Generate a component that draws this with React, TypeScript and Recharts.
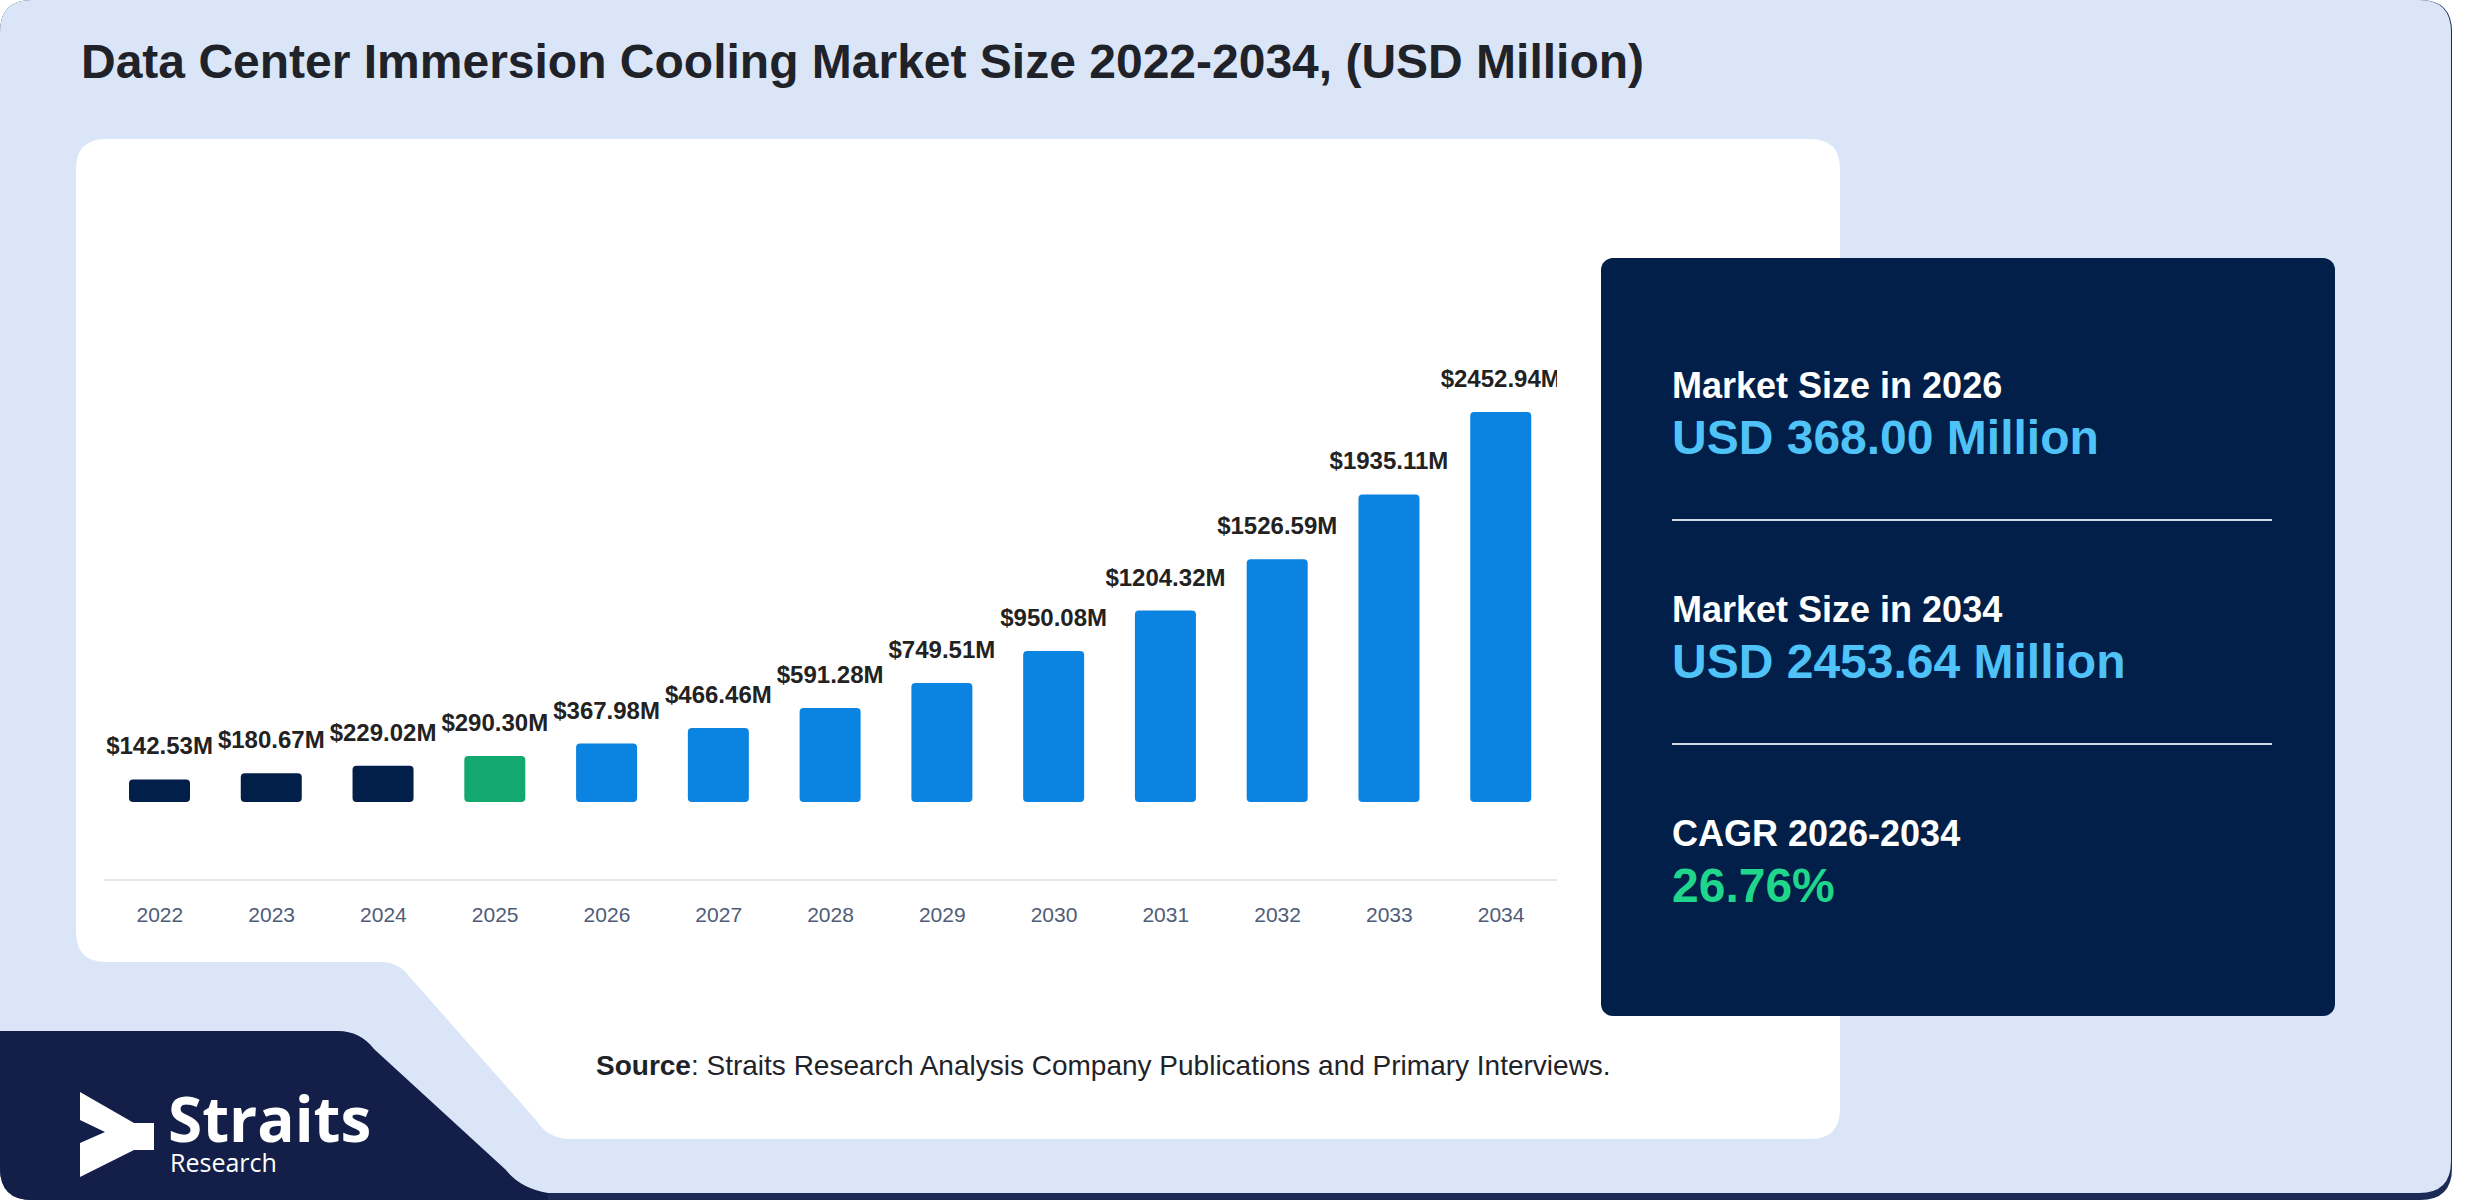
import React from 'react';
import { BarChart, Bar, XAxis, YAxis, Cell, LabelList } from 'recharts';

const YEARS = ['2022', '2023', '2024', '2025', '2026', '2027', '2028', '2029', '2030', '2031', '2032', '2033', '2034'];
const MARKET_SIZE = [142.53, 180.67, 229.02, 290.3, 367.98, 466.46, 591.28, 749.51, 950.08, 1204.32, 1526.59, 1935.11, 2452.94];
const HISTORIC_YEARS = ['2022', '2023', '2024'];
const BASE_YEAR = '2025';

const TITLE = 'Data Center Immersion Cooling Market Size 2022-2034, (USD Million)';
const STAT_LABELS = ['Market Size in 2026', 'Market Size in 2034', 'CAGR 2026-2034'];
const STAT_VALUES = ['USD 368.00 Million', 'USD 2453.64 Million', '26.76%'];
const STAT_COLORS = ['#4fc3f7', '#4fc3f7', '#1fd68b'];

const NAVY = '#011f48';
const GREEN = '#13a86e';
const BLUE = '#0b84e1';
const LOGO_NAVY = '#131f48';
const BG_BLUE = '#dae6f8';
const FONT = '"Liberation Sans", Arial, Helvetica, sans-serif';

const data = YEARS.map((year, i) => ({ year, value: MARKET_SIZE[i] }));

const barColor = (year: string) =>
  HISTORIC_YEARS.includes(year) ? NAVY : year === BASE_YEAR ? GREEN : BLUE;

const fmtMoney = (v: any) => `$${Number(v).toFixed(2)}M`;

// fondo, tarjeta blanca, panel lateral y logo
function Backdrop() {
  const statY = [398, 622, 846];
  return (
    <svg width={2480} height={1200} style={{ position: 'absolute', left: 0, top: 0 }}>
      <path d="M32 0 H2420 Q2452 0 2452 32 V1168 Q2452 1200 2420 1200 H32 Q0 1200 0 1168 V32 Q0 0 32 0 Z" fill="#1c2b55" />
      <path d="M32 0 H2419 Q2451 0 2451 32 V1161 Q2451 1193 2419 1193 H32 Q0 1193 0 1161 V32 Q0 0 32 0 Z" fill={BG_BLUE} />
      <path
        d="M106 139 H1810 Q1840 139 1840 169 V1109 Q1840 1139 1810 1139 H570 Q548 1139 536 1120 L408 975 Q398 962 380 962 H106 Q76 962 76 932 V169 Q76 139 106 139 Z"
        fill="#ffffff"
      />
      <path
        d="M0 1031 H338 Q360 1031 374 1049 L506 1170 Q520 1188 548 1193 V1200 H32 Q0 1200 0 1168 Z"
        fill={LOGO_NAVY}
      />
      <text x={81} y={78} fontFamily={FONT} fontWeight={700} fontSize={48} fill="#1f2329">
        {TITLE}
      </text>

      <rect x={1601} y={258} width={734} height={758} rx={12} fill={NAVY} />
      {STAT_LABELS.map((label, i) => (
        <g key={label}>
          <text x={1672} y={statY[i]} fontFamily={FONT} fontWeight={700} fontSize={36} fill="#ffffff">
            {label}
          </text>
          <text x={1672} y={statY[i] + 56} fontFamily={FONT} fontWeight={700} fontSize={48} fill={STAT_COLORS[i]}>
            {STAT_VALUES[i]}
          </text>
          {i < STAT_LABELS.length - 1 && (
            <line x1={1672} x2={2272} y1={statY[i] + 122} y2={statY[i] + 122} stroke="#d2d9e4" strokeWidth={2} />
          )}
        </g>
      ))}

      <text x={596} y={1075} fontFamily={FONT} fontSize={28} fill="#1f2329">
        <tspan fontWeight={700}>Source</tspan>
        <tspan>: Straits Research Analysis Company Publications and Primary Interviews.</tspan>
      </text>

      <polygon
        points="80,1092 134,1123 154,1123 154,1150 134,1150 80,1177 80,1143 105,1132 80,1120"
        fill="#ffffff"
      />
      <text x={168} y={1142} fontFamily='"Open Sans", sans-serif' fontWeight={700} fontSize={62} fill="#ffffff">
        Straits
      </text>
      <text x={170} y={1172} fontFamily='"Open Sans", sans-serif' fontSize={25} fill="#ffffff">
        Research
      </text>
    </svg>
  );
}

export default function App() {
  return (
    <div style={{ position: 'absolute', left: 0, top: 0, width: 2480, height: 1200, fontFamily: FONT }}>
      <Backdrop />
      <div style={{ position: 'absolute', left: 104, top: 300 }}>
        <BarChart width={1453} height={680} data={data} margin={{ top: 20, right: 0, bottom: 0, left: 0 }}>
          <XAxis
            dataKey="year"
            height={100}
            tickLine={false}
            tickSize={6}
            tickMargin={21}
            axisLine={{ stroke: '#e3e6ea', strokeWidth: 2 }}
            tick={{ fontSize: 21, fill: '#4e5c78', fontFamily: FONT }}
            interval={0}
          />
          <YAxis hide domain={[-490, 3032]} />
          <Bar dataKey="value" barSize={61} radius={4} isAnimationActive={false}>
            {data.map((d) => (
              <Cell key={d.year} fill={barColor(d.year)} />
            ))}
            <LabelList
              dataKey="value"
              position="top"
              offset={25}
              formatter={fmtMoney}
              style={{ fontSize: 24, fontWeight: 700, fill: '#222222', fontFamily: FONT }}
            />
          </Bar>
        </BarChart>
      </div>
    </div>
  );
}
